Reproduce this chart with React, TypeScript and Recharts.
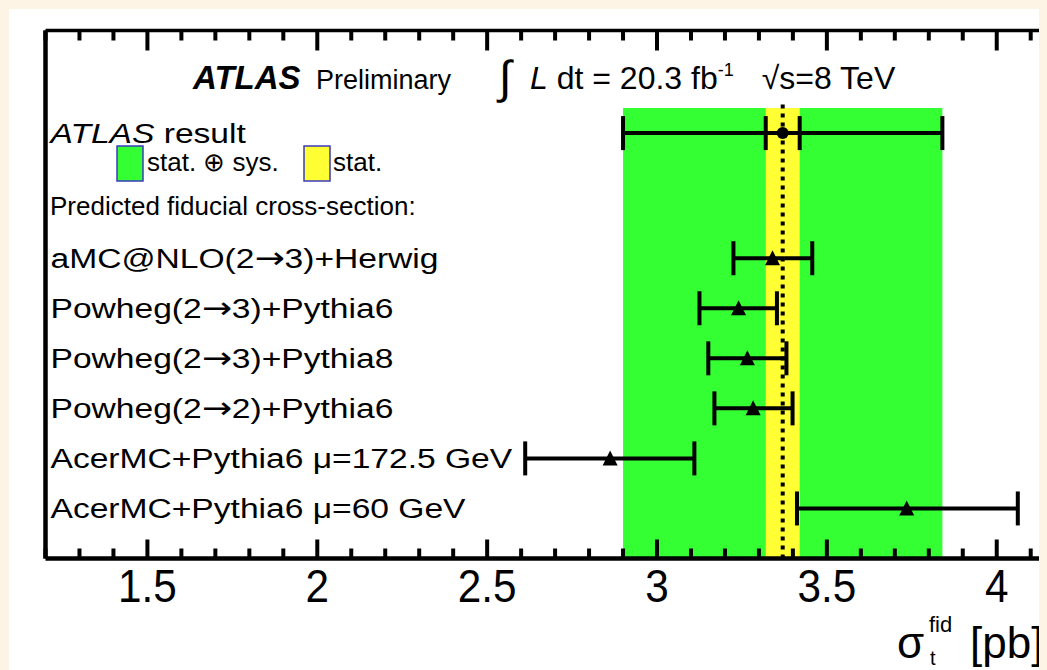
import React from 'react'
import {
  ScatterChart,
  Scatter,
  XAxis,
  YAxis,
  ErrorBar,
  ReferenceArea,
  ReferenceLine,
} from 'recharts'

// ATLAS measurement (pb)
const atlasLabel = 'ATLAS result'
const atlasRow = 8.5
const atlasXsec = 3.37
const atlasStat = 0.05
const atlasTotal = 0.47

// predictions, top to bottom
const models = [
  'aMC@NLO(2→3)+Herwig',
  'Powheg(2→3)+Pythia6',
  'Powheg(2→3)+Pythia8',
  'Powheg(2→2)+Pythia6',
  'AcerMC+Pythia6 μ=172.5 GeV',
  'AcerMC+Pythia6 μ=60 GeV',
]
const modelRow = [6, 5, 4, 3, 2, 1]
const modelXsec = [3.34, 3.24, 3.266, 3.283, 2.862, 3.735]
const modelErrDown = [0.115, 0.115, 0.115, 0.114, 0.25, 0.323]
const modelErrUp = [0.117, 0.113, 0.115, 0.116, 0.248, 0.327]

const xTicks = [
  1.2, 1.3, 1.4, 1.5, 1.6, 1.7, 1.8, 1.9, 2.0, 2.1, 2.2, 2.3, 2.4, 2.5, 2.6,
  2.7, 2.8, 2.9, 3.0, 3.1, 3.2, 3.3, 3.4, 3.5, 3.6, 3.7, 3.8, 3.9, 4.0, 4.1,
]
const xTickLabels: Record<string, string> = {
  '1.5': '1.5', '2': '2', '2.5': '2.5', '3': '3', '3.5': '3.5', '4': '4',
}

const font = '"Liberation Sans", Arial, Helvetica, sans-serif'
const GREEN = '#33ff33'
const YELLOW = '#ffff33'

document.body.style.background = '#fdf4e5'

const modelData = models.map((name, i) => ({
  name,
  x: modelXsec[i],
  y: modelRow[i],
  err: [modelErrDown[i], modelErrUp[i]],
}))
const atlasData = [
  { name: atlasLabel, x: atlasXsec, y: atlasRow, tot: [atlasTotal, atlasTotal], stat: [atlasStat, atlasStat] },
]

const rowLabel: Record<number, string> = { [atlasRow]: atlasLabel }
modelRow.forEach((r, i) => (rowLabel[r] = models[i]))

const tickKey = (v: number) => String(Math.round(v * 10) / 10)
const isMajor = (v: number) => xTickLabels[tickKey(v)] !== undefined

const BottomTick = (p: any) => {
  const v = p.payload.value
  const major = isMajor(v)
  return (
    <g>
      <line x1={p.x} x2={p.x} y1={p.y} y2={p.y - (major ? 19 : 10)} stroke="#000" strokeWidth={4} />
      {major && (
        <text
          transform={`translate(${p.x},${p.y + 43}) scale(0.92,1)`}
          textAnchor="middle"
          fontSize={46}
          fontFamily={font}
          fill="#000"
        >
          {xTickLabels[tickKey(v)]}
        </text>
      )}
    </g>
  )
}

const TopTick = (p: any) => {
  const major = isMajor(p.payload.value)
  return <line x1={p.x} x2={p.x} y1={p.y} y2={p.y + (major ? 20 : 10)} stroke="#000" strokeWidth={4} />
}

// draw arrows with DejaVu, its glyph is closer to the ROOT one
const withArrows = (s: string) =>
  s.split('→').map((part, i) => (
    <React.Fragment key={i}>
      {i > 0 && <tspan fontFamily="DejaVu Sans" fontSize={30}>→</tspan>}
      <tspan>{part}</tspan>
    </React.Fragment>
  ))

const RowTick = (p: any) => {
  const label = rowLabel[p.payload.value] || ''
  const italicAtlas = label.startsWith('ATLAS ')
  return (
    <text
      transform={`translate(${p.x + 5},${p.y + 10}) scale(1.2,1)`}
      textAnchor="start"
      fontSize={28}
      fontFamily={font}
      fill="#000"
    >
      {italicAtlas ? (
        <>
          <tspan fontStyle="italic">ATLAS</tspan>
          <tspan>{label.slice(5)}</tspan>
        </>
      ) : (
        withArrows(label)
      )}
    </text>
  )
}

const Triangle = (p: any) => (
  <polygon
    points={`${p.cx},${p.cy - 8} ${p.cx - 7.5},${p.cy + 7} ${p.cx + 7.5},${p.cy + 7}`}
    fill="#000"
  />
)
const Dot = (p: any) => <circle cx={p.cx} cy={p.cy} r={6} fill="#000" />

export default function App() {
  const W = 1038
  const H = 661
  return (
    <div style={{ position: 'relative', width: W, height: H, marginLeft: 1, marginTop: 1, background: '#fff' }}>
      <ScatterChart width={W} height={H} margin={{ top: 20.5, right: 0, left: 35.5, bottom: 0 }}>
        <XAxis
          type="number"
          dataKey="x"
          domain={[1.2, 4.145]}
          allowDataOverflow
          ticks={xTicks}
          interval={0}
          height={111.5}
          tickSize={0}
          tickMargin={0}
          tickLine={false}
          tick={<BottomTick />}
          axisLine={{ stroke: '#000', strokeWidth: 4.5 }}
        />
        <XAxis
          xAxisId="top"
          orientation="top"
          type="number"
          dataKey="x"
          domain={[1.2, 4.145]}
          allowDataOverflow
          ticks={xTicks}
          interval={0}
          height={1}
          tickSize={0}
          tickMargin={0}
          tickLine={false}
          tick={<TopTick />}
          axisLine={{ stroke: '#000', strokeWidth: 3.5 }}
        />
        <YAxis
          type="number"
          dataKey="y"
          domain={[0, 10.55]}
          allowDataOverflow
          ticks={[atlasRow, ...modelRow]}
          interval={0}
          width={1}
          tickSize={0}
          tickMargin={0}
          tickLine={false}
          tick={<RowTick />}
          axisLine={{ stroke: '#000', strokeWidth: 4.5 }}
        />
        <YAxis
          yAxisId="right"
          orientation="right"
          type="number"
          dataKey="y"
          domain={[0, 10.55]}
          allowDataOverflow
          width={1}
          tick={false}
          tickLine={false}
          axisLine={{ stroke: '#000', strokeWidth: 1.5 }}
        />
        <ReferenceArea x1={atlasXsec - atlasTotal} x2={atlasXsec + atlasTotal} y1={0} y2={9} fill={GREEN} fillOpacity={1} stroke="none" />
        <ReferenceArea x1={atlasXsec - atlasStat} x2={atlasXsec + atlasStat} y1={0} y2={9} fill={YELLOW} fillOpacity={1} stroke="none" />
        <ReferenceLine
          segment={[{ x: atlasXsec, y: 0 }, { x: atlasXsec, y: 9.15 }]}
          stroke="#000"
          strokeWidth={4}
          strokeDasharray="4 5"
        />
        <Scatter data={atlasData} shape={<Dot />} isAnimationActive={false}>
          <ErrorBar dataKey="tot" direction="x" width={17} strokeWidth={4} stroke="#000" isAnimationActive={false} />
          <ErrorBar dataKey="stat" direction="x" width={17} strokeWidth={4} stroke="#000" isAnimationActive={false} />
        </Scatter>
        <Scatter data={modelData} shape={<Triangle />} isAnimationActive={false}>
          <ErrorBar dataKey="err" direction="x" width={17} strokeWidth={4} stroke="#000" isAnimationActive={false} />
        </Scatter>
      </ScatterChart>

      <svg
        width={W}
        height={H}
        style={{ position: 'absolute', left: 0, top: 0, pointerEvents: 'none' }}
        fontFamily={font}
      >
        <text x={184} y={80} fontSize={33} fontWeight="bold" fontStyle="italic">ATLAS</text>
        <text x={307} y={80} fontSize={27}>Preliminary</text>
        <text x={490} y={84} fontSize={46}>∫</text>
        <text x={521} y={80} fontSize={32}>
          <tspan fontStyle="italic">L</tspan>
          <tspan> dt = 20.3 fb</tspan>
          <tspan dy={-13} fontSize={18}>-1</tspan>
          <tspan dy={13} dx={28}>√s=8 TeV</tspan>
        </text>

        <rect x={108} y={137} width={26} height={35} fill={GREEN} stroke="#3b3bbf" strokeWidth={1.5} />
        <text x={138} y={162} fontSize={26}>stat. ⊕ sys.</text>
        <rect x={295} y={137} width={26} height={35} fill={YELLOW} stroke="#3b3bbf" strokeWidth={1.5} />
        <text x={324} y={162} fontSize={26}>stat.</text>

        <text x={41} y={206} fontSize={26}>Predicted fiducial cross-section:</text>

        <text x={888} y={649} fontSize={44}>σ</text>
        <text x={920} y={623} fontSize={22}>fid</text>
        <text x={921} y={656} fontSize={20}>t</text>
        <text x={961} y={649} fontSize={44}>[pb]</text>
      </svg>
    </div>
  )
}
